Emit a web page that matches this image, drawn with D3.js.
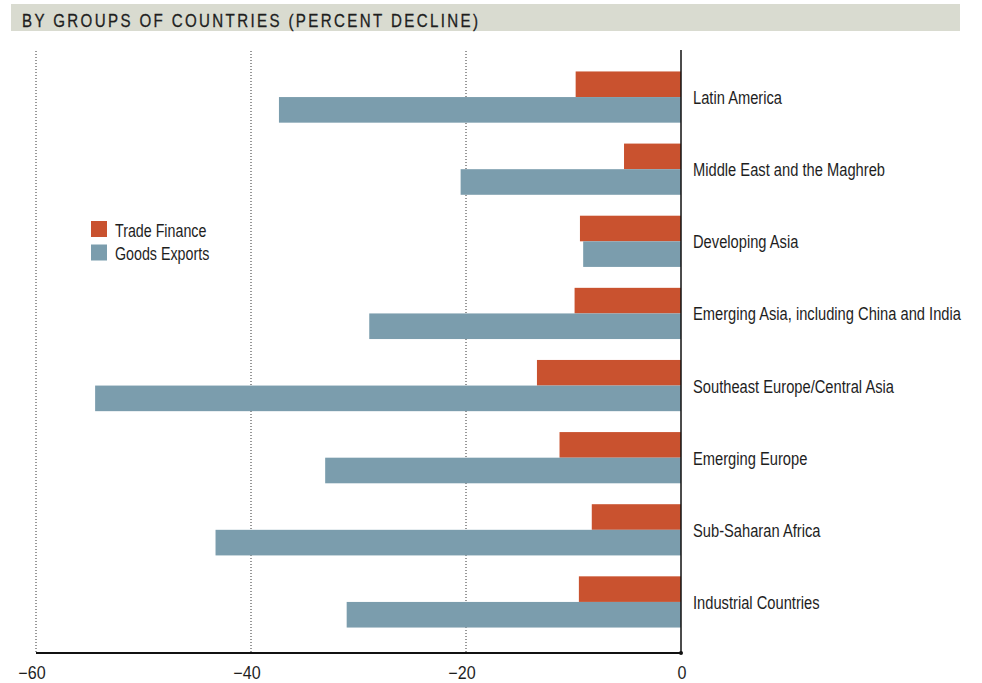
<!DOCTYPE html>
<html>
<head>
<meta charset="utf-8">
<script src="https://cdn.jsdelivr.net/npm/d3@7"></script>
<style>
  body { margin: 0; background: #fff; }
  svg text { font-family: "Liberation Sans", Arial, sans-serif; fill: #1e1e1e; }
</style>
</head>
<body>
<svg id="chart" width="982" height="683"></svg>
<script>
// Data
const regions = ['Latin America', 'Middle East and the Maghreb', 'Developing Asia',
  'Emerging Asia, including China and India', 'Southeast Europe/Central Asia',
  'Emerging Europe', 'Sub-Saharan Africa', 'Industrial Countries']
const tradeFinance = [-9.8, -5.3, -9.4, -9.9, -13.4, -11.3, -8.3, -9.5]
const goodsExports = [-37.4, -20.5, -9.1, -29.0, -54.5, -33.1, -43.3, -31.1]
const seriesNames = ['Trade Finance', 'Goods Exports']
const xTicks = [-60, -40, -20, 0]

const colors = ['#c9522f', '#7b9dad']
const squeeze = 0.84   // narrow the glyphs to look like a condensed face

const svg = d3.select('#chart')

// Title bar
svg.append('rect')
    .attr('x', 11).attr('y', 4)
    .attr('width', 949).attr('height', 27)
    .style('fill', '#d9dbd0')
svg.append('text')
    .attr('transform', `translate(22,27) scale(${squeeze},1)`)
    .attr('textLength', 456 / squeeze)
    .attr('lengthAdjust', 'spacing')
    .style('font-size', '18px')
    .style('stroke', '#1e1e1e').style('stroke-width', 0.3)
    .text('BY GROUPS OF COUNTRIES (PERCENT DECLINE)')

// Scales
const x = d3.scaleLinear().domain([-60, 0]).range([36, 681])
const y = d3.scaleBand().domain(regions).range([61, 638]).paddingInner(0.29).paddingOuter(0.145)
const ySub = d3.scaleBand().domain(seriesNames).range([0, y.bandwidth()])

const axisY = 653

// Grid lines
svg.selectAll('.grid')
    .data(xTicks.filter(d => d !== 0))
    .enter()
    .append('line')
    .attr('class', 'grid')
    .attr('x1', d => x(d)).attr('x2', d => x(d))
    .attr('y1', 51).attr('y2', axisY)
    .style('stroke', '#333')
    .style('stroke-width', 1)
    .style('stroke-dasharray', '1,2')

// Bars
const rows = regions.map((r, i) => ({region: r, values: [tradeFinance[i], goodsExports[i]]}))
const groups = svg.selectAll('.group')
    .data(rows)
    .enter()
    .append('g')
    .attr('transform', d => `translate(0,${y(d.region)})`)

groups.selectAll('rect')
    .data(d => d.values.map((v, j) => ({name: seriesNames[j], value: v, color: colors[j]})))
    .enter()
    .append('rect')
    .attr('x', d => x(d.value))
    .attr('width', d => x(0) - x(d.value))
    .attr('y', d => ySub(d.name))
    .attr('height', ySub.bandwidth())
    .style('fill', d => d.color)

// Category labels
groups.append('text')
    .attr('transform', `translate(693,${y.bandwidth() / 2 + 7}) scale(${squeeze},1)`)
    .style('font-size', '17.5px')
    .text(d => d.region)

// Zero line
svg.append('line')
    .attr('x1', x(0)).attr('x2', x(0))
    .attr('y1', 50).attr('y2', axisY)
    .style('stroke', '#111').style('stroke-width', 1.5)

// X axis
svg.append('line')
    .attr('x1', x(-60)).attr('x2', x(0))
    .attr('y1', axisY).attr('y2', axisY)
    .style('stroke', '#111').style('stroke-width', 1.8)
svg.append('circle')
    .attr('cx', x(0)).attr('cy', axisY).attr('r', 2)
    .style('fill', '#111')

svg.selectAll('.tick-label')
    .data(xTicks)
    .enter()
    .append('text')
    .attr('class', 'tick-label')
    .attr('transform', d => `translate(${x(d) + (d < 0 ? -4 : 1)},679) scale(0.92,1)`)
    .attr('text-anchor', 'middle')
    .style('font-size', '17.5px')
    .text(d => d < 0 ? '\u2212' + Math.abs(d) : d)

// Legend
const legend = svg.selectAll('.legend')
    .data(seriesNames)
    .enter()
    .append('g')
    .attr('transform', (d, i) => `translate(91,${221 + i * 23.5})`)
legend.append('rect')
    .attr('width', 16).attr('height', 16)
    .style('fill', (d, i) => colors[i])
legend.append('text')
    .attr('transform', `translate(24,15.5) scale(${squeeze * 0.97},1)`)
    .style('font-size', '17.5px')
    .text(d => d)
</script>
</body>
</html>
